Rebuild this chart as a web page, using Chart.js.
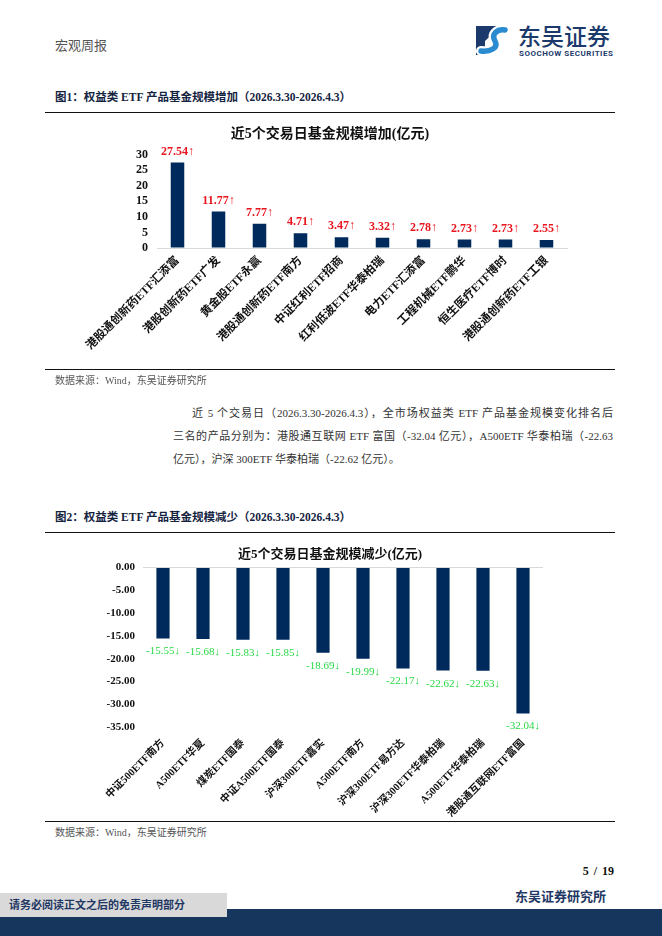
<!DOCTYPE html>
<html lang="zh">
<head>
<meta charset="utf-8">
<title>权益类ETF产品基金规模变化</title>
<script src="https://cdn.jsdelivr.net/npm/chart.js@4.4.1/dist/chart.umd.min.js"></script>
<style>
  body { margin: 0; background: #fff; }
  #page {
    position: relative; width: 662px; height: 936px; overflow: hidden;
    font-family: 'Liberation Serif', 'Noto Sans CJK SC', serif; color: #222;
  }
  .abs { position: absolute; white-space: nowrap; }
  .rule { position: absolute; left: 45px; width: 570px; height: 0; border-top: 1.5px solid #111; }
  .caption { font-size: 11.5px; font-weight: bold; color: #14233f; left: 55px; }
  .source { font-size: 10px; color: #555; left: 55px; }
  .para { font-size: 11px; color: #333; line-height: 14px; }
  .just { text-align: justify; text-align-last: justify; white-space: normal; }
  .chartbox { position: absolute; left: 45px; width: 570px; }
</style>
</head>
<body>
<div id="page">
  <div class="abs" style="left:55px; top:35px; font-size:13px; color:#555;">宏观周报</div>

  <svg class="abs" style="left:476px; top:26px;" width="33" height="29" viewBox="0 0 33 29">
    <polygon points="0,0 25,0 9,15 9,29 0,29" fill="#1b3a6b"/>
    <path d="M5,25 C14,26 23,22 19,15 C15,8 21,3 29,4" stroke="#fff" stroke-width="10" fill="none" stroke-linecap="round"/>
    <path d="M5,25 C14,26 23,22 19,15 C15,8 21,3 29,4" stroke="#2b8bd0" stroke-width="5.5" fill="none" stroke-linecap="round"/>
  </svg>
  <div class="abs" style="left:518px; top:21px; font-family:'Noto Sans CJK SC'; font-size:23px; font-weight:500; color:#1b3a6b; line-height:28px;">东吴证券</div>
  <div class="abs" style="left:519px; top:49px; font-family:Roboto; font-size:8px; font-weight:bold; color:#1b3a6b; letter-spacing:0.5px; line-height:9px;">SOOCHOW SECURITIES</div>

  <div class="abs caption" style="top:88px;">图1：权益类 ETF 产品基金规模增加（2026.3.30-2026.4.3）</div>
  <div class="rule" style="top:112px;"></div>
  <div class="chartbox" style="top:114px; height:256px;"><canvas id="upChart"></canvas></div>
  <div class="rule" style="top:369px;"></div>
  <div class="abs source" style="top:372px;">数据来源：Wind，东吴证券研究所</div>

  <div class="abs para just" style="left:192px; top:406px; width:421px;">近 5 个交易日（2026.3.30-2026.4.3），全市场权益类 ETF 产品基金规模变化排名后</div>
  <div class="abs para just" style="left:173px; top:429px; width:440px;">三名的产品分别为：港股通互联网 ETF 富国（-32.04 亿元），A500ETF 华泰柏瑞（-22.63</div>
  <div class="abs para" style="left:173px; top:452px;">亿元），沪深 300ETF 华泰柏瑞（-22.62 亿元）。</div>

  <div class="abs caption" style="top:508px;">图2：权益类 ETF 产品基金规模减少（2026.3.30-2026.4.3）</div>
  <div class="rule" style="top:532px;"></div>
  <div class="chartbox" style="top:534px; height:286px;"><canvas id="downChart"></canvas></div>
  <div class="rule" style="top:821px;"></div>
  <div class="abs source" style="top:824px;">数据来源：Wind，东吴证券研究所</div>

  <div class="abs" style="right:48px; top:864px; font-size:12px; font-weight:bold; color:#111; word-spacing:2px;">5 / 19</div>
  <div class="abs" style="right:56px; top:886px; font-size:13px; font-weight:bold; color:#1f3864;">东吴证券研究所</div>
  <div class="abs" style="left:0; top:909px; width:662px; height:27px; background:#17365d;"></div>
  <div class="abs" style="left:0; top:893px; width:227px; height:24px; background:#d9d9d9; line-height:24px; font-size:11px; font-weight:bold; color:#1f3864; padding-left:9px; box-sizing:border-box;">请务必阅读正文之后的免责声明部分</div>
</div>

<script>
// 规模增加前十
const upLabels = ['港股通创新药ETF汇添富', '港股创新药ETF广发', '黄金股ETF永赢', '港股通创新药ETF南方', '中证红利ETF招商',
  '红利低波ETF华泰柏瑞', '电力ETF汇添富', '工程机械ETF鹏华', '恒生医疗ETF博时', '港股通创新药ETF工银'];
const upValues = [27.54, 11.77, 7.77, 4.71, 3.47, 3.32, 2.78, 2.73, 2.73, 2.55];
const upTicks = [0, 5, 10, 15, 20, 25, 30];

// 规模减少前十
const downLabels = ['中证500ETF南方', 'A500ETF华夏', '煤炭ETF国泰', '中证A500ETF国泰', '沪深300ETF嘉实',
  'A500ETF南方', '沪深300ETF易方达', '沪深300ETF华泰柏瑞', 'A500ETF华泰柏瑞', '港股通互联网ETF富国'];
const downValues = [-15.55, -15.68, -15.83, -15.85, -18.69, -19.99, -22.17, -22.62, -22.63, -32.04];
const downTicks = [0, -5, -10, -15, -20, -25, -30, -35];

const serif = "'Liberation Serif', 'Noto Sans CJK SC', serif";
const barColor = '#002a5c';

// draws the value + arrow above / below each bar
const valueLabels = {
  id: 'valueLabels',
  afterDatasetsDraw(chart, args, opts) {
    const ctx = chart.ctx;
    const meta = chart.getDatasetMeta(0);
    const data = chart.data.datasets[0].data;
    ctx.save();
    ctx.font = opts.font;
    ctx.fillStyle = opts.color;
    ctx.textAlign = 'center';
    ctx.textBaseline = 'middle';
    meta.data.forEach((bar, i) => {
      ctx.fillText(data[i].toFixed(2) + opts.arrow, bar.x, bar.y + opts.offset);
    });
    ctx.restore();
  }
};

function makeChart(id, s) {
  return new Chart(document.getElementById(id), {
    type: 'bar',
    data: {
      labels: s.labels,
      datasets: [{ data: s.values, backgroundColor: barColor, barPercentage: 0.66, categoryPercentage: 0.5 }]
    },
    options: {
      responsive: true,
      maintainAspectRatio: false,
      animation: false,
      layout: { padding: 0 },
      plugins: {
        legend: { display: false },
        tooltip: { enabled: false },
        title: {
          display: true, text: s.title, color: '#111',
          font: { family: serif, size: s.titleSize, weight: 'bold' },
          padding: { top: s.titleTop, bottom: s.titleBottom }
        },
        valueLabels: s.valueLabels
      },
      scales: {
        x: {
          grid: { display: false, drawTicks: false },
          border: { display: s.xBorder, color: '#d9d9d9', width: 1 },
          ticks: {
            autoSkip: false, minRotation: 45, maxRotation: 45, padding: s.xPad,
            color: '#111', font: { family: serif, size: s.xFont, weight: 'bold' }
          },
          afterFit: scale => { scale.height = s.xHeight; }
        },
        y: {
          min: s.min, max: s.max,
          grid: {
            drawTicks: false,
            color: c => (s.zeroLine && c.tick.value === 0) ? '#d9d9d9' : 'rgba(0,0,0,0)'
          },
          border: { display: false },
          ticks: {
            autoSkip: false, padding: s.yPad, color: '#111',
            font: { family: serif, size: s.yFont, weight: 'bold' },
            callback: v => s.fmt(v)
          },
          afterBuildTicks: scale => { scale.ticks = s.ticks.map(v => ({ value: v })); },
          afterFit: scale => { scale.width = s.yWidth; }
        },
        // empty right-hand margin so the title stays centred on the figure
        yRight: {
          position: 'right', display: true,
          grid: { display: false, drawTicks: false },
          border: { display: false },
          ticks: { display: false },
          afterFit: scale => { scale.width = s.padRight; }
        }
      }
    },
    plugins: [valueLabels]
  });
}

makeChart('upChart', {
  labels: upLabels, values: upValues, ticks: upTicks, min: 0, max: 30,
  title: '近5个交易日基金规模增加(亿元)', titleSize: 14, titleTop: 12, titleBottom: 12,
  padRight: 48, yWidth: 112, xHeight: 122, xPad: 6, xFont: 11.5, yFont: 12, yPad: 9,
  xBorder: true, zeroLine: false, fmt: v => String(v),
  valueLabels: { font: "bold 12px " + serif, color: '#e8141e', arrow: '↑', offset: -11 }
});

makeChart('downChart', {
  labels: downLabels, values: downValues, ticks: downTicks, min: -35, max: 0,
  title: '近5个交易日基金规模减少(亿元)', titleSize: 13, titleTop: 13, titleBottom: 5,
  padRight: 72, yWidth: 98, xHeight: 93, xPad: 10, xFont: 10.5, yFont: 11, yPad: 8,
  xBorder: false, zeroLine: true, fmt: v => v.toFixed(2),
  valueLabels: { font: "11px " + serif, color: '#2ad846', arrow: '↓', offset: 13 }
});
</script>
</body>
</html>
